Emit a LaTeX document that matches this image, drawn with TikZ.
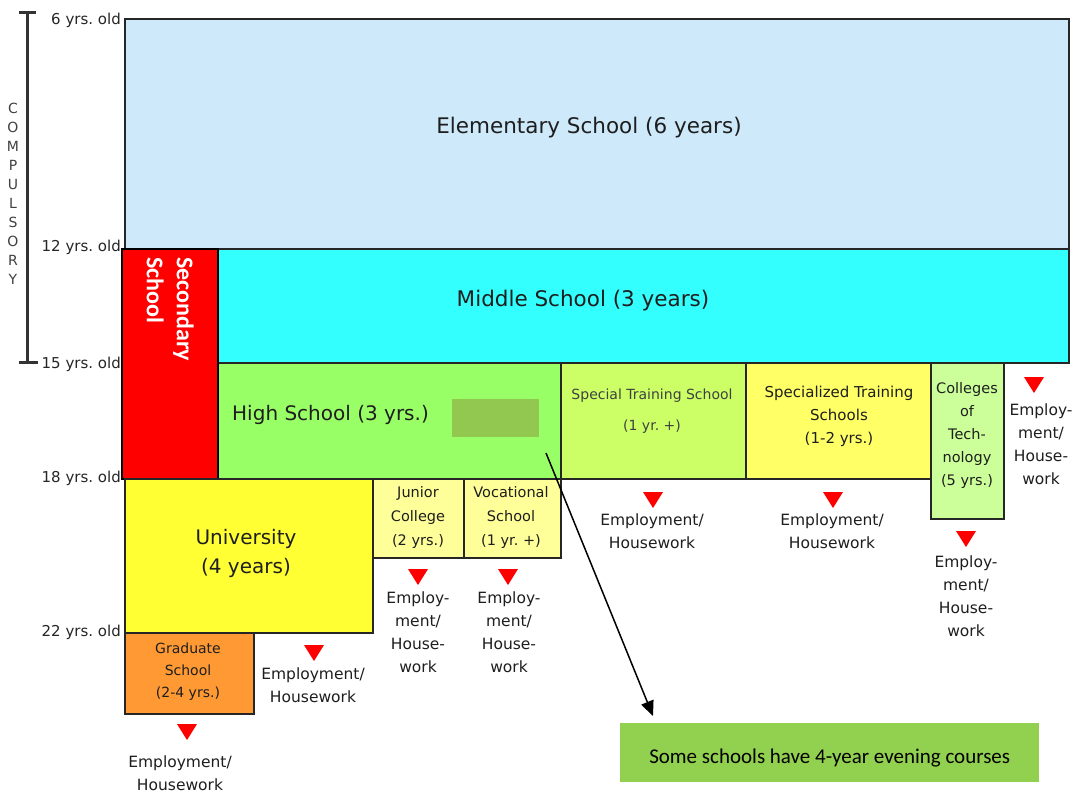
\documentclass[tikz,border=0pt]{standalone}
\usepackage{fontspec}
\setmainfont{DejaVu Sans}
\newfontfamily\calib{Carlito}
\usetikzlibrary{arrows.meta}
\frenchspacing
\definecolor{elemc}{RGB}{205,233,250}
\definecolor{midc}{RGB}{51,255,255}
\definecolor{secc}{RGB}{255,0,0}
\definecolor{highc}{RGB}{153,255,102}
\definecolor{spc}{RGB}{204,255,102}
\definecolor{yelc}{RGB}{255,255,102}
\definecolor{ctc}{RGB}{204,255,153}
\definecolor{unic}{RGB}{255,255,51}
\definecolor{jcc}{RGB}{255,255,153}
\definecolor{gradc}{RGB}{255,153,51}
\definecolor{callc}{RGB}{146,208,80}
\definecolor{patchc}{RGB}{146,200,80}
\definecolor{txt}{RGB}{30,30,30}
\begin{document}
\begin{tikzpicture}[x=1pt,y=-1pt,
  box/.style={draw=black!85, line width=2pt, anchor=north west, inner sep=0pt},
  big/.style={font=\fontsize{21.5}{27}\selectfont, text=txt, inner sep=0pt},
  mid/.style={font=\fontsize{15}{23}\selectfont, text=txt, inner sep=0pt, align=center},
  emp/.style={font=\fontsize{15.5}{23}\selectfont, text=txt, inner sep=0pt, align=center, anchor=north},
  age/.style={font=\fontsize{15}{17}\selectfont, text=black!85, inner sep=0pt, anchor=east},
  redtri/.pic={\fill[red] (-10,0) -- (10,0) -- (0,16) -- cycle;}]
\useasboundingbox (0,0) rectangle (1076,796);
\fill[white] (0,0) rectangle (1076,796);

% compulsory axis
\coordinate (axtop) at (27,12);
\coordinate (axbot) at (27,362);
\draw[line width=3pt, black!80] (axtop) -- (axbot);
\draw[line width=3pt, black!80] (19,12) -- (36,12);
\draw[line width=3pt, black!80] (19,362) -- (38,362);
\node[font=\fontsize{14}{19}\selectfont, text=black!75, align=center, inner sep=0pt] (comp) at (13,194)
  {C\\O\\M\\P\\U\\L\\S\\O\\R\\Y};

% age labels
\node[age] (a6) at (121,20) {6 yrs. old};
\node[age] (a12) at (121,247) {12 yrs. old};
\node[age] (a15) at (121,364) {15 yrs. old};
\node[age] (a18) at (121,478) {18 yrs. old};
\node[age] (a22) at (121,632) {22 yrs. old};

% boxes
\node[box, fill=elemc, minimum width=944pt, minimum height=230pt] (elem) at (124,18) {};
\node[box, fill=midc, minimum width=851pt, minimum height=114pt] (mids) at (217,248) {};
\node[box, fill=highc, minimum width=343pt, minimum height=116pt] (high) at (217,362) {};
\node[box, fill=spc, minimum width=185pt, minimum height=116pt] (spt) at (560,362) {};
\node[box, fill=yelc, minimum width=185pt, minimum height=116pt] (spz) at (745,362) {};
\node[box, fill=ctc, minimum width=73pt, minimum height=156pt] (ct) at (930,362) {};
\node[box, fill=secc, draw=black, minimum width=96pt, minimum height=230pt] (sec) at (121,248) {};
\node[box, fill=unic, minimum width=248pt, minimum height=154pt] (uni) at (124,478) {};
\node[box, fill=jcc, minimum width=91pt, minimum height=79pt] (jc) at (372,478) {};
\node[box, fill=jcc, minimum width=97pt, minimum height=79pt] (voc) at (463,478) {};
\node[box, fill=gradc, minimum width=129pt, minimum height=81pt] (grad) at (124,632) {};
\fill[patchc] (452,399) rectangle (539,437);

% box labels
\node[big] (elemt) at (589,128) {Elementary School (6 years)};
\node[big] (midt) at (583,301) {Middle School (3 years)};
\node[font=\fontsize{20}{26}\selectfont, text=txt, inner sep=0pt, anchor=west] (hight) at (232,415) {High School (3 yrs.)};
\node[font=\calib\bfseries\fontsize{24}{30}\selectfont, text=white, inner sep=0pt, align=left, rotate=-90, anchor=north west] (sect) at (194,257) {Secondary\\School};
\node[font=\fontsize{14}{31}\selectfont, text=black!75, inner sep=0pt, align=center] (sptt) at (652,411) {Special Training School\\(1 yr. +)};
\node[mid] (spzt) at (839,416) {Specialized Training\\Schools\\(1-2 yrs.)};
\node[mid, font=\fontsize{14.5}{23}\selectfont] (ctt) at (967,435) {Colleges\\of\\Tech-\\nology\\(5 yrs.)};
\node[font=\fontsize{20}{29}\selectfont, text=txt, inner sep=0pt, align=center] (unit) at (246,553) {University\\(4 years)};
\node[mid, font=\fontsize{14.5}{24}\selectfont] (jct) at (418,517) {Junior\\College\\(2 yrs.)};
\node[mid, font=\fontsize{14.5}{24}\selectfont] (voct) at (511,517) {Vocational\\School\\(1 yr. +)};
\node[mid, font=\fontsize{14}{22}\selectfont] (gradt) at (188,672) {Graduate\\School\\(2-4 yrs.)};

% exits
\pic at (187,724) {redtri};
\node[emp] (e1) at (180,756) {Employment/\\Housework};
\pic at (314,645) {redtri};
\node[emp] (e2) at (313,668) {Employment/\\Housework};
\pic at (418,569) {redtri};
\node[emp] (e3) at (418,592) {Employ-\\ment/\\House-\\work};
\pic at (508,569) {redtri};
\node[emp] (e4) at (509,592) {Employ-\\ment/\\House-\\work};
\pic at (653,492) {redtri};
\node[emp] (e5) at (652,514) {Employment/\\Housework};
\pic at (833,492) {redtri};
\node[emp] (e6) at (832,514) {Employment/\\Housework};
\pic at (966,531) {redtri};
\node[emp] (e7) at (966,556) {Employ-\\ment/\\House-\\work};
\pic at (1034,377) {redtri};
\node[emp] (e8) at (1041,404) {Employ-\\ment/\\House-\\work};

% callout
\node[fill=callc, minimum width=419pt, minimum height=59pt, anchor=north west, inner sep=0pt] (call) at (620,723) {};
\node[font=\calib\fontsize{21}{25}\selectfont, text=black, inner sep=0pt] (callt) at ([yshift=-5pt]call.center) {Some schools have 4-year evening courses};
\coordinate (arrs) at (546,453);
\coordinate (arre) at (653,716);
\draw[line width=1.5pt, -{Triangle[length=15pt,width=13pt]}] (arrs) -- (arre);
\end{tikzpicture}
\end{document}
